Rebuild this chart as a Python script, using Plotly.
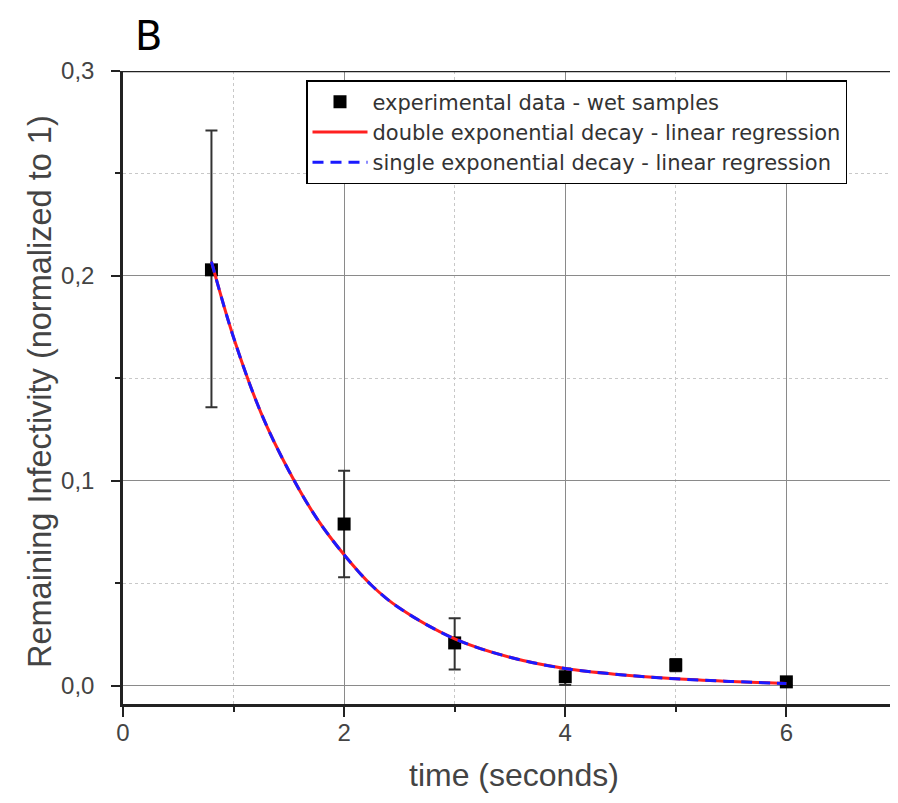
import plotly.graph_objects as go

# experimental data
time_s = [0.8, 2.0, 3.0, 4.0, 5.0, 6.0]
infectivity = [0.203, 0.079, 0.021, 0.0045, 0.0102, 0.002]
err_plus = [0.068, 0.026, 0.012, 0.004, 0.003, 0.0015]
err_minus = [0.067, 0.026, 0.013, 0.004, 0.003, 0.0015]

# fitted curves
fit_x = [0.8, 1.0, 1.25, 1.5, 1.75, 2.0, 2.25, 2.5, 3.0, 3.5, 4.0, 4.5, 5.0, 5.5, 6.0]
fit_double = [0.207, 0.170, 0.133, 0.105, 0.082, 0.064, 0.049, 0.038, 0.023, 0.014, 0.0085, 0.0055, 0.0035, 0.0022, 0.0012]
fit_single = [0.207, 0.170, 0.133, 0.105, 0.082, 0.064, 0.049, 0.038, 0.023, 0.014, 0.0085, 0.0055, 0.0035, 0.0022, 0.0012]

x_ticks = [0, 2, 4, 6]
x_ticklabels = ["0", "2", "4", "6"]
y_ticks = [0.0, 0.1, 0.2, 0.3]
y_ticklabels = ["0,0", "0,1", "0,2", "0,3"]

font = "Liberation Sans, Arial, sans-serif"

fig = go.Figure()
fig.add_trace(go.Scatter(
    x=time_s, y=infectivity, mode="markers",
    name="experimental data - wet samples",
    marker=dict(symbol="square", size=13, color="black"),
    error_y=dict(type="data", symmetric=False, array=err_plus, arrayminus=err_minus,
                 color="#333333", thickness=2, width=6),
))
fig.add_trace(go.Scatter(
    x=fit_x, y=fit_double, mode="lines",
    name="double exponential decay - linear regression",
    line=dict(color="#ff2020", width=3, shape="spline"),
))
fig.add_trace(go.Scatter(
    x=fit_x, y=fit_single, mode="lines",
    name="single exponential decay - linear regression",
    line=dict(color="#1a1aff", width=3, dash="11px,7px", shape="spline"),
))

# page body has an 8px margin; plot area spans x 123..898, y 71..704 on the page
W, H = 890, 790
L, T, R = 115, 63, 0
B = H - 696
pw = W - L - R
ph = H - T - B
x_max = 7.01 * pw / 775.0

def px_x(px):
    return (px - 8 - L) / pw

def px_y(py):
    return (H - B - (py - 8)) / ph

fig.update_layout(
    width=W, height=H,
    margin=dict(l=L, r=R, t=T, b=B, autoexpand=False),
    paper_bgcolor="white", plot_bgcolor="white",
    font=dict(family=font, color="#444444", size=23),
    showlegend=True,
    legend=dict(
        x=px_x(306), y=px_y(80), xanchor="left", yanchor="top",
        bgcolor="white", bordercolor="black", borderwidth=1.5,
        font=dict(family="DejaVu Sans, sans-serif", size=21, color="#333333"),
        tracegroupgap=0, itemwidth=55,
    ),
)
fig.add_annotation(text="B", xref="paper", yref="paper",
                   x=px_x(148), y=px_y(36), showarrow=False,
                   font=dict(family="DejaVu Sans, sans-serif", size=40, color="black"),
                   xanchor="center", yanchor="middle")
fig.add_annotation(text="time (seconds)", xref="paper", yref="paper",
                   x=px_x(514), y=px_y(775), showarrow=False,
                   font=dict(family=font, size=32, color="#444444"),
                   xanchor="center", yanchor="middle")
fig.add_annotation(text="Remaining Infectivity (normalized to 1)", xref="paper", yref="paper",
                   x=px_x(40), y=px_y(392), showarrow=False, textangle=-90,
                   font=dict(family=font, size=32.5, color="#444444"),
                   xanchor="center", yanchor="middle")

fig.update_xaxes(
    range=[0, x_max], tickvals=x_ticks, ticktext=x_ticklabels,
    showline=True, linecolor="#222222", linewidth=2.5,
    ticks="outside", ticklen=10, tickwidth=2, tickcolor="#222222",
    showgrid=True, gridcolor="#8a8a8a", gridwidth=1.3, zeroline=False,
    minor=dict(tickvals=[1, 3, 5], ticks="outside", ticklen=5, tickwidth=2, tickcolor="#222222",
               showgrid=True, gridcolor="#c8c8c8", griddash="dot", gridwidth=1),
    tickfont=dict(size=24, color="#444444"),
    ticklabelstandoff=-5,
)
fig.update_yaxes(
    range=[-0.0088, 0.3], tickvals=y_ticks, ticktext=y_ticklabels,
    showline=True, linecolor="#222222", linewidth=2.5,
    ticks="outside", ticklen=9, tickwidth=2, tickcolor="#222222",
    showgrid=True, gridcolor="#8a8a8a", gridwidth=1.3, zeroline=False,
    minor=dict(tickvals=[0.05, 0.15, 0.25], ticks="outside", ticklen=5, tickwidth=2, tickcolor="#222222",
               showgrid=True, gridcolor="#c8c8c8", griddash="dot", gridwidth=1),
    tickfont=dict(size=24, color="#444444"),
    ticklabelstandoff=12,
)
# top frame line
fig.add_shape(type="line", xref="paper", yref="y", x0=0, x1=1, y0=0.3, y1=0.3,
              line=dict(color="#222222", width=2.5))

fig.write_html("out.html")
